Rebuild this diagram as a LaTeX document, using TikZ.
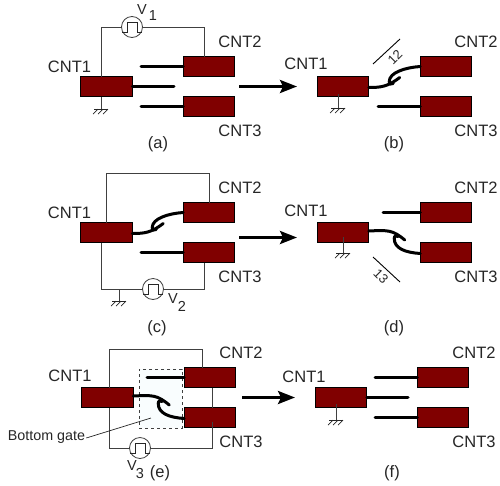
\documentclass[tikz,border=0pt]{standalone}
\usepackage{fontspec}
\setmainfont{Liberation Sans}
\usetikzlibrary{arrows.meta}
\definecolor{cntred}{HTML}{800000}
\definecolor{wirec}{HTML}{404040}
\definecolor{gatefill}{HTML}{F9FDFE}
\tikzset{
  cnt/.style={draw=black,line width=1.2pt,fill=cntred,minimum width=51.5pt,minimum height=20pt,inner sep=0pt,outer sep=0pt},
  tube/.style={line width=3pt,black,line cap=round},
  wire/.style={line width=0.8pt,wirec},
  bigarrow/.style={line width=3pt,black,-{Stealth[length=17pt,width=13pt,inset=3pt]}},
  lab/.style={font=\fontsize{16.5}{18}\selectfont,text=black!85,inner sep=0pt},
  sublab/.style={font=\fontsize{16.5}{18}\selectfont,text=black!85,inner sep=0pt},
  vlab/.style={font=\fontsize{14.5}{16}\selectfont,text=black!85,inner sep=0pt},
  src/.style={draw=wirec,line width=0.8pt,circle,fill=white,minimum size=21pt,inner sep=0pt,outer sep=0pt},
  pics/pulse/.style={code={\draw[line width=0.9pt,black!85] (-10,5)--(-5,5)--(-5,-5)--(5,-5)--(5,5)--(10,5);}},
  pics/gnd/.style={code={
    \draw[line width=0.8pt,black!85] (-7,0)--(7,0);
    \foreach \q in {-3,2,7}{\draw[line width=0.7pt,black!85] (\q,0)--(\q-5,5);}
  }},
}
\newcommand{\curlup}[2]{%
  \draw[tube] ([yshift=-1pt]#1.east) .. controls +(13,0) and +(-12,9) .. +(31,-10);
  \draw[tube] (#2.west) .. controls +(-15,1) and +(0,-9) .. ++(-31,15) .. controls +(0,3) and +(-2,1) .. ++(4,2);
}
\newcommand{\curldown}[2]{%
  \draw[tube] ([yshift=1.5pt]#1.east) .. controls +(20,-1) and +(-12,-10) .. +(36,9);
  \draw[tube] ([yshift=-1pt]#2.west) .. controls +(-15,-1) and +(0,10) .. ++(-26,-15) .. controls +(0,-3) and +(-2,-1) .. ++(4,-2);
}
\begin{document}
\begin{tikzpicture}[x=1pt,y=-1pt]
\useasboundingbox (0,0) rectangle (500,485);
% ---------- (a)
\node[src] (va) at (132,27) {};
\coordinate (aground) at (101,109);
\node[cnt] (a1) at (106.5,86.5) {};
\node[cnt] (a2) at (209,66.5) {};
\node[cnt] (a3) at (209,106.5) {};
\draw[wire] (va.west) -| ([xshift=-5.5pt]a1.north);
\draw[wire] (va.east) -| ([xshift=-5pt]a2.north);
\pic at (132,27) {pulse};
\draw[wire] ([xshift=-5.5pt]a1.south) -- (aground);
\pic at (aground) {gnd};
\coordinate (a2e) at (141,66.5);
\coordinate (a1e) at (174,86.5);
\coordinate (a3e) at (141,106.5);
\draw[tube] (a2.west) -- (a2e);
\draw[tube] (a1.east) -- (a1e);
\draw[tube] (a3.west) -- (a3e);
\node[lab] (ta1) at (69.5,67) {CNT1};
\node[lab] (ta2) at (240,42) {CNT2};
\node[lab] (ta3) at (240,131) {CNT3};
\node[vlab] (tv1a) at (142,10) {V};
\node[vlab] (tv1b) at (153,16) {1};
\node[sublab] (la) at (158,144) {(a)};
\coordinate (abs) at (239,86.5);
\coordinate (abt) at (297,86.5);
\draw[bigarrow] (abs) -- (abt);
% ---------- (b)
\node[cnt] (b1) at (343,86.5) {};
\node[cnt] (b2) at (446,66.5) {};
\node[cnt] (b3) at (446,106.5) {};
\curlup{b1}{b2}
\coordinate (b3e) at (378,106.5);
\draw[tube] (b3.west) -- (b3e);
\coordinate (bg) at (338,108);
\coordinate (bgt) at (338,94);
\draw[wire] (bgt) -- (bg);
\pic at (bg) {gnd};
\coordinate (bl1) at (373,64);
\coordinate (bl2) at (400,39);
\draw[line width=0.9pt,black] (bl1) -- (bl2);
\node[font=\fontsize{13}{15}\selectfont,rotate=45,inner sep=0pt,text=black!85] (t12) at (395,57) {12};
\node[lab] (tb1) at (306,64) {CNT1};
\node[lab] (tb2) at (476,42) {CNT2};
\node[lab] (tb3) at (476,131) {CNT3};
\node[sublab] (lb) at (394,144) {(b)};
% ---------- (c)
\node[src] (vc) at (153,289) {};
\node[cnt] (c1) at (106.5,232.5) {};
\node[cnt] (c2) at (209,212.5) {};
\node[cnt] (c3) at (209,252.5) {};
\coordinate (ctop) at (106,173);
\draw[wire] ([xshift=-.5pt]c1.north) -- (ctop) -| (c2.north);
\draw[wire] ([xshift=-5.5pt]c1.south) |- (vc.west);
\draw[wire] (vc.east) -| ([xshift=-5pt]c3.south);
\pic at (153,289) {pulse};
\coordinate (cg1) at (119,289);
\coordinate (cg2) at (119,301);
\draw[wire] (cg1) -- (cg2);
\pic at (cg2) {gnd};
\curlup{c1}{c2}
\coordinate (c3e) at (141,252.5);
\draw[tube] (c3.west) -- (c3e);
\node[lab] (tc1) at (69.5,213) {CNT1};
\node[lab] (tc2) at (240,188) {CNT2};
\node[lab] (tc3) at (240,277) {CNT3};
\node[vlab] (tv2a) at (173,299) {V};
\node[vlab] (tv2b) at (182,306) {2};
\node[sublab] (lc) at (157,328) {(c)};
\coordinate (cds) at (239,237.5);
\coordinate (cdt) at (297,237.5);
\draw[bigarrow] (cds) -- (cdt);
% ---------- (d)
\node[cnt] (d1) at (343,232.5) {};
\node[cnt] (d2) at (446,212.5) {};
\node[cnt] (d3) at (446,252.5) {};
\curldown{d1}{d3}
\coordinate (d2e) at (383,212.5);
\draw[tube] (d2.west) -- (d2e);
\coordinate (dgt) at (343,237);
\coordinate (dg) at (343,253);
\draw[wire] (dgt) -- (dg);
\pic at (dg) {gnd};
\coordinate (dl1) at (373,257);
\coordinate (dl2) at (400,282);
\draw[line width=0.9pt,black] (dl1) -- (dl2);
\node[font=\fontsize{13}{15}\selectfont,rotate=-45,inner sep=0pt,text=black!85] (t13) at (381,276) {13};
\node[lab] (td1) at (306,211) {CNT1};
\node[lab] (td2) at (476,188) {CNT2};
\node[lab] (td3) at (476,277) {CNT3};
\node[sublab] (ld) at (394,328) {(d)};
% ---------- (e)
\node[draw=black!75,dashed,line width=0.7pt,fill=gatefill,minimum width=43pt,minimum height=59pt,inner sep=0pt] (gate) at (160.5,398.5) {};
\node[src] (ve) at (140,448) {};
\node[cnt] (e1) at (107.5,397.5) {};
\node[cnt] (e2) at (210,377.5) {};
\node[cnt] (e3) at (210,417.5) {};
\coordinate (etop) at (109,349);
\draw[wire] ([xshift=1.5pt]e1.north) -- (etop) -| ([xshift=-8pt]e2.north);
\draw[wire] ([xshift=1.5pt]e1.south) |- (ve.west);
\draw[wire] (ve.east) -| ([xshift=2pt]e3.south);
\draw[wire] ([xshift=2pt]e2.south) -- ([xshift=2pt]e3.north);
\coordinate (e3w) at (212,422);
\draw[wire] ([xshift=2pt]e3.south) -- (e3w);
\pic at (140,448) {pulse};
\curldown{e1}{e3}
\coordinate (e2e) at (147,377.5);
\draw[tube] (e2.west) -- (e2e);
\node[inner sep=0pt,font=\fontsize{14.3}{16}\selectfont,text=black!85] (tgate) at (46.5,437) {Bottom gate};
\coordinate (gatept) at (151,418);
\draw[line width=0.7pt,black!85] (tgate.east) ++(1,1) -- (gatept);
\node[lab] (te1) at (70,376) {CNT1};
\node[lab] (te2) at (241,353) {CNT2};
\node[lab] (te3) at (241,442) {CNT3};
\node[vlab] (tv3a) at (132,466) {V};
\node[vlab] (tv3b) at (140,473) {3};
\node[sublab] (le) at (160,473) {(e)};
\coordinate (efs) at (242,397.5);
\coordinate (eft) at (295,397.5);
\draw[bigarrow] (efs) -- (eft);
% ---------- (f)
\node[cnt] (f1) at (341,397.5) {};
\node[cnt] (f2) at (443,377.5) {};
\node[cnt] (f3) at (443,417.5) {};
\coordinate (f2e) at (375,377.5);
\coordinate (f1e) at (408,397.5);
\coordinate (f3e) at (375,417.5);
\draw[tube] (f2.west) -- (f2e);
\draw[tube] (f1.east) -- (f1e);
\draw[tube] (f3.west) -- (f3e);
\coordinate (fgt) at (336,404);
\coordinate (fg) at (336,420);
\draw[wire] (fgt) -- (fg);
\pic at (fg) {gnd};
\node[lab] (tf1) at (304,377) {CNT1};
\node[lab] (tf2) at (474,353) {CNT2};
\node[lab] (tf3) at (474,442) {CNT3};
\node[sublab] (lf) at (392,473) {(f)};
\end{tikzpicture}
\end{document}
